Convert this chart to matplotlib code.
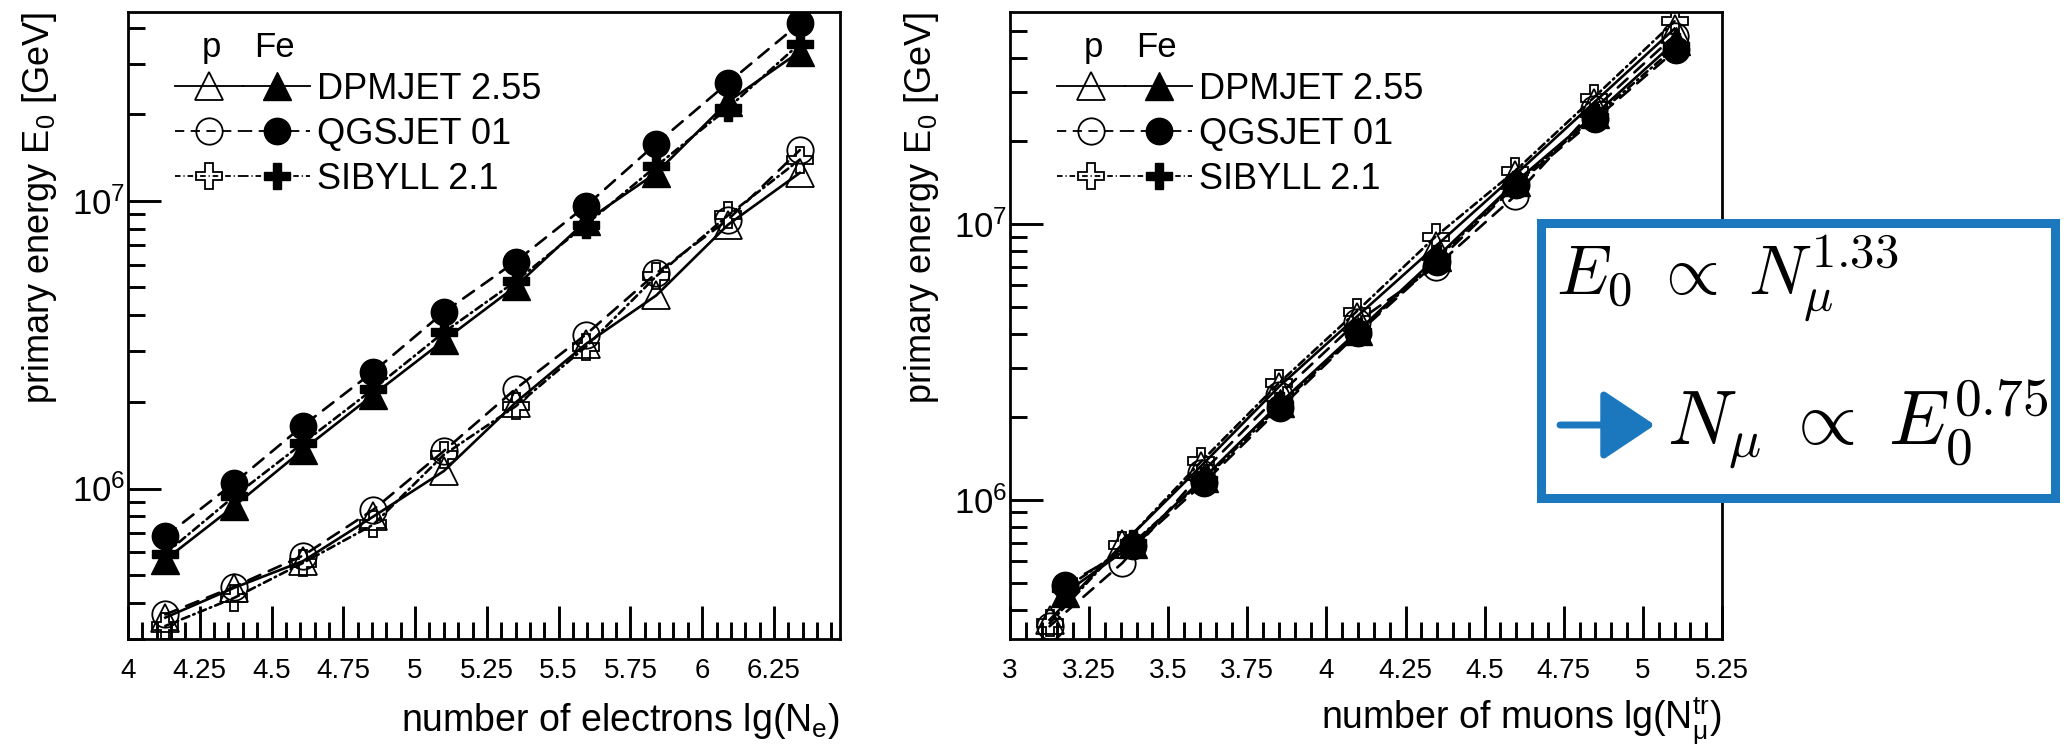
import numpy as np
import matplotlib
matplotlib.use("Agg")
import matplotlib.pyplot as plt
from matplotlib.lines import Line2D
from matplotlib.legend_handler import HandlerTuple
from matplotlib.patches import Rectangle, FancyArrowPatch
from matplotlib.ticker import MultipleLocator, LogLocator, NullFormatter, FuncFormatter

plt.rcParams["font.family"] = ["Liberation Sans", "DejaVu Sans"]
plt.rcParams["mathtext.fontset"] = "custom"
plt.rcParams["mathtext.rm"] = "Liberation Sans"
plt.rcParams["mathtext.it"] = "Liberation Sans:italic"

# --------------------------------------------------------------------------- #
#  data: primary energy E0 [GeV] per bin
# --------------------------------------------------------------------------- #
# left: vs. lg(Ne)
ne_x = [4.13, 4.37, 4.61, 4.855, 5.10, 5.35, 5.595, 5.84, 6.09, 6.34]
ne_p_dpmjet  = [3.56e5, 4.52e5, 5.6e5, 8.0e5, 1.15e6, 1.99e6, 3.18e6, 4.69e6, 8.26e6, 1.25e7]
ne_p_qgsjet  = [3.65e5, 4.56e5, 5.85e5, 8.45e5, 1.35e6, 2.22e6, 3.43e6, 5.6e6, 8.6e6, 1.5e7]
ne_p_sibyll  = [3.33e5, 4.17e5, 5.52e5, 7.5e5, 1.31e6, 1.93e6, 3.11e6, 5.47e6, 8.9e6, 1.39e7]
ne_fe_dpmjet = [5.66e5, 8.69e5, 1.365e6, 2.12e6, 3.27e6, 5.04e6, 8.5e6, 1.25e7, 2.21e7, 3.3e7]
ne_fe_qgsjet = [6.82e5, 1.047e6, 1.655e6, 2.55e6, 4.10e6, 6.15e6, 9.6e6, 1.58e7, 2.57e7, 4.14e7]
ne_fe_sibyll = [5.94e5, 9.4e5, 1.44e6, 2.22e6, 3.49e6, 5.25e6, 8.26e6, 1.32e7, 2.1e7, 3.52e7]

# right: vs. lg(Nmu_tr)
nmu_x_p  = [3.125, 3.355, 3.605, 3.85, 4.095, 4.345, 4.595, 4.845, 5.10]
nmu_x_fe = [3.175, 3.39, 3.612, 3.854, 4.10, 4.35, 4.598, 4.85, 5.105]
nmu_p_dpmjet  = [3.67e5, 6.9e5, 1.33e6, 2.57e6, 4.6e6, 8.3e6, 1.5e7, 2.75e7, 5.1e7]
nmu_p_qgsjet  = [3.48e5, 5.9e5, 1.25e6, 2.4e6, 4.4e6, 7.0e6, 1.26e7, 2.6e7, 4.81e7]
nmu_p_sibyll  = [3.57e5, 6.87e5, 1.38e6, 2.65e6, 4.81e6, 9.0e6, 1.55e7, 2.87e7, 5.42e7]
nmu_fe_dpmjet = [4.6e5, 6.9e5, 1.2e6, 2.25e6, 4.1e6, 7.6e6, 1.42e7, 2.5e7, 4.6e7]
nmu_fe_qgsjet = [4.92e5, 6.78e5, 1.15e6, 2.15e6, 4.02e6, 7.3e6, 1.38e7, 2.4e7, 4.27e7]
nmu_fe_sibyll = [4.78e5, 7.0e5, 1.18e6, 2.2e6, 4.05e6, 7.5e6, 1.4e7, 2.45e7, 4.4e7]

models = ["DPMJET 2.55", "QGSJET 01", "SIBYLL 2.1"]

# style per model: marker, line dashes
STYLE = {
    "DPMJET 2.55": dict(marker="^", ms=20, ls="-"),
    "QGSJET 01":   dict(marker="o", ms=19, ls=(0, (5, 3.5))),
    "SIBYLL 2.1":  dict(marker="P", ms=19, ls=(0, (3, 1.6, 0.6, 1.6))),
}
LW = 1.9
BLUE = "#1c78be"


def draw_series(ax, x, y, model, filled):
    st = STYLE[model]
    ax.plot(x, y, color="k", lw=LW, ls=st["ls"], marker=st["marker"], ms=st["ms"],
            mfc="k" if filled else "none", mec="k", mew=1.3 if not filled else 1.0,
            dash_capstyle="round", zorder=3 if filled else 2)


def style_axes(ax, xlim, ylim, xlabel, xlabelpad=12):
    ax.set_yscale("log")
    ax.set_xlim(*xlim)
    ax.set_ylim(*ylim)
    ax.xaxis.set_major_locator(MultipleLocator(0.25))
    ax.xaxis.set_minor_locator(MultipleLocator(0.05))
    ax.xaxis.set_major_formatter(FuncFormatter(lambda v, p: f"{v:g}"))
    ax.yaxis.set_major_locator(LogLocator(base=10))
    ax.yaxis.set_minor_locator(LogLocator(base=10, subs=np.arange(2, 10)))
    ax.yaxis.set_major_formatter(FuncFormatter(lambda v, p: r"$10^{%d}$" % round(np.log10(v))))
    ax.yaxis.set_minor_formatter(NullFormatter())
    ax.tick_params(which="both", direction="in", top=False, right=False, width=2.1)
    ax.tick_params(which="major", length=23.8)
    ax.tick_params(which="minor", length=12.2)
    ax.tick_params(axis="x", labelsize=20, pad=14)
    ax.tick_params(axis="y", labelsize=25, pad=2)
    for s in ax.spines.values():
        s.set_linewidth(2.0)
    ax.set_xlabel(xlabel, fontsize=27, loc="right", labelpad=xlabelpad)
    ax.set_ylabel(r"primary energy E$_{0}$ [GeV]", fontsize=26, loc="top", labelpad=9)


def add_legend(ax):
    handles = []
    for m in models:
        st = STYLE[m]
        h_open = Line2D([], [], color="k", lw=LW * 0.7, ls=st["ls"], marker=st["marker"],
                        ms=st["ms"], mfc="none", mec="k", mew=1.3)
        h_fill = Line2D([], [], color="k", lw=LW * 0.7, ls=st["ls"], marker=st["marker"],
                        ms=st["ms"], mfc="k", mec="k")
        handles.append((h_open, h_fill))
    ax.legend(handles, models, handler_map={tuple: HandlerTuple(ndivide=None, pad=0)},
              loc="upper left", bbox_to_anchor=(0.066, 0.905), frameon=False,
              fontsize=26, handlelength=3.75, handletextpad=0.17, labelspacing=0.28,
              borderpad=0, borderaxespad=0)
    ax.text(0.117, 0.943, "p", transform=ax.transAxes, fontsize=25, ha="center", va="center")
    ax.text(0.206, 0.943, "Fe", transform=ax.transAxes, fontsize=25, ha="center", va="center")


fig = plt.figure(figsize=(20.69, 7.47), dpi=100)
ax1 = fig.add_axes([128 / 2069, 1 - 639 / 747, 712 / 2069, 627 / 747])
ax2 = fig.add_axes([1010 / 2069, 1 - 639 / 747, 712 / 2069, 627 / 747])

# left panel
for m, yp, yf in zip(models, [ne_p_dpmjet, ne_p_qgsjet, ne_p_sibyll],
                     [ne_fe_dpmjet, ne_fe_qgsjet, ne_fe_sibyll]):
    draw_series(ax1, ne_x, yp, m, filled=False)
    draw_series(ax1, ne_x, yf, m, filled=True)
style_axes(ax1, (4, 6.48), (3.0e5, 4.53e7), r"number of electrons lg(N$_{\mathrm{e}}$)")
add_legend(ax1)

# right panel
for m, yp, yf in zip(models, [nmu_p_dpmjet, nmu_p_qgsjet, nmu_p_sibyll],
                     [nmu_fe_dpmjet, nmu_fe_qgsjet, nmu_fe_sibyll]):
    draw_series(ax2, nmu_x_p, yp, m, filled=False)
    draw_series(ax2, nmu_x_fe, yf, m, filled=True)
style_axes(ax2, (3, 5.25), (3.13e5, 5.86e7),
           r"number of muons lg(N$_{\mathrm{\mu}}^{\mathrm{tr}}$)", xlabelpad=7)
add_legend(ax2)

# annotation box with the scaling relations
box = Rectangle((1540.5 / 2069, 1 - 497.5 / 747), 514 / 2069, 275 / 747,
                transform=fig.transFigure, facecolor="white", edgecolor=BLUE,
                lw=6.5, zorder=5)
fig.add_artist(box)
fig.text(1556 / 2069, 1 - 295 / 747, r"$E_0\;\propto\;N_\mu^{1.33}$", fontsize=50,
         math_fontfamily="cm", ha="left", va="baseline", zorder=6)
fig.text(1667 / 2069, 1 - 445 / 747, r"$N_\mu\;\propto\;E_0^{0.75}$", fontsize=55,
         math_fontfamily="cm", ha="left", va="baseline", zorder=6)
arrow = FancyArrowPatch((1560 / 2069, 1 - 425 / 747), (1655 / 2069, 1 - 425 / 747),
                        transform=fig.transFigure, color=BLUE, lw=5,
                        arrowstyle="-|>,head_length=0.9,head_width=0.6",
                        mutation_scale=36, shrinkA=0, shrinkB=0, zorder=6)
fig.add_artist(arrow)

fig.savefig("out.png", dpi=100)
